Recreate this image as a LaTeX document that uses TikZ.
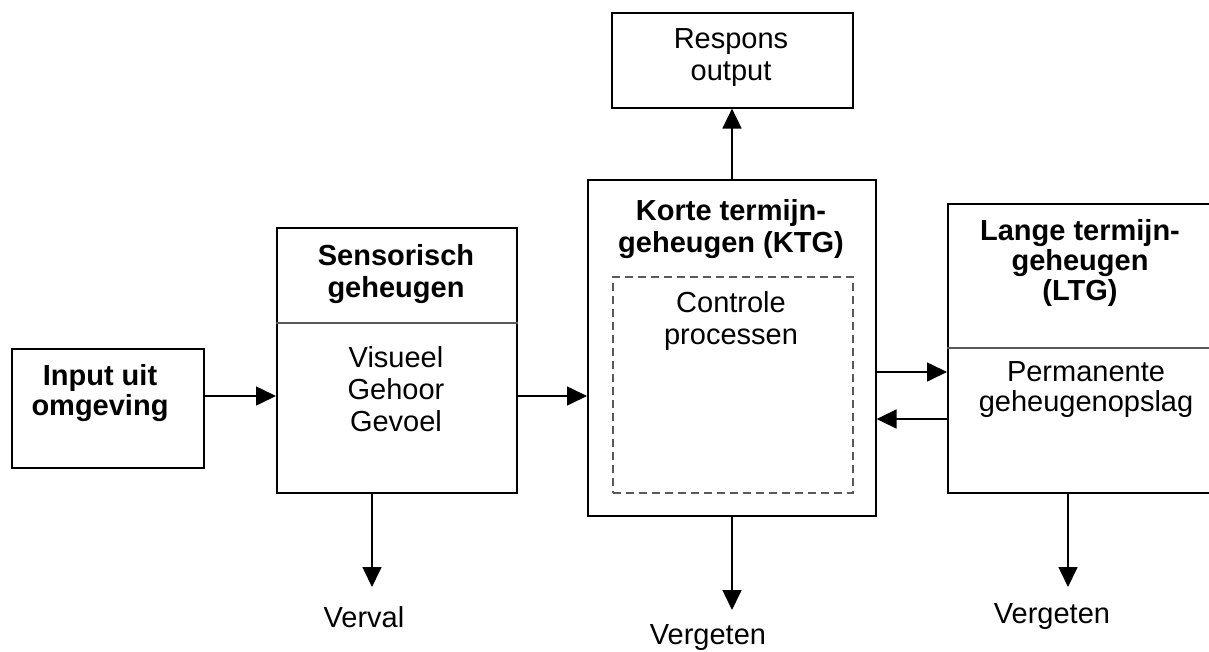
\documentclass[tikz,border=0pt]{standalone}
\usepackage{fontspec}
\setmainfont{Liberation Sans}
\usetikzlibrary{arrows.meta,math,calc}

\begin{document}
\begin{tikzpicture}[x=1pt,y=-1pt,>={Triangle[length=20pt,width=19pt]},
	box/.style={draw,line width=1.6pt,inner sep=0pt,anchor=north west},
	txt/.style={align=center,inner sep=0pt,font=\fontsize{29}{32}\selectfont},
	vet/.style={txt,font=\fontsize{29}{32}\selectfont\bfseries},
	krap/.style={font=\fontsize{29}{30}\selectfont\bfseries},
	pijl/.style={->,line width=1.6pt},
	scheid/.style={line width=1.2pt,color=black!65},
	stippel/.style={draw,color=black!65,line width=1.5pt,dash pattern=on 8pt off 5pt,inner sep=0pt,anchor=north west}]

\tikzmath{
	real	\rij, \heen, \terug;
	\rij = 396;
	\heen = 372;
	\terug = 419;
}

\clip (0,0) rectangle (1209,651);

% blokken
\node[box,minimum width=192pt,minimum height=119pt] (input) at (11,348) {};
\node[box,minimum width=240pt,minimum height=265pt] (sens) at (276,227) {};
\node[box,minimum width=288pt,minimum height=336pt] (ktg) at (587,179) {};
\node[box,minimum width=275pt,minimum height=289pt] (ltg) at (947,203) {};
\node[box,minimum width=241pt,minimum height=95pt] (respons) at (611,12) {};
\node[stippel,minimum width=240pt,minimum height=216pt] (controle) at (612,276) {};

\draw[scheid] (sens.west |- 0,323) -- (sens.east |- 0,323);
\draw[scheid] (ltg.west |- 0,348) -- (ltg.east |- 0,348);

% teksten
\node[vet,krap] (input-tekst) at (100,393) {Input uit\\omgeving};
\node[vet] (sens-titel) at (396,274) {Sensorisch\\geheugen};
\node[txt] (sens-tekst) at (396,389) {Visueel\\Gehoor\\Gevoel};
\node[vet] (ktg-titel) at (731,229) {Korte termijn-\\geheugen (KTG)};
\node[txt] (controle-tekst) at (731,321) {Controle\\processen};
\node[vet,krap] (ltg-titel) at (1080,263) {Lange termijn-\\geheugen\\(LTG)};
\node[txt,font=\fontsize{29}{30}\selectfont] (ltg-tekst) at (1086,390) {Permanente\\geheugenopslag};
\node[txt] (respons-tekst) at (731,58) {Respons\\output};
\node[txt] (verval) at (364,617) {Verval};
\node[txt] (vergeten-ktg) at (708,638) {Vergeten};
\node[txt] (vergeten-ltg) at (1052,617) {Vergeten};

% pijlen
\coordinate (rij) at (0,\rij);
\coordinate (heen) at (0,\heen);
\coordinate (terug) at (0,\terug);
\coordinate (s-uit) at (372,587);
\coordinate (k-uit) at (732,610);
\coordinate (l-uit) at (1068,587);

\draw[pijl] (input.east |- rij) -- (sens.west |- rij);
\draw[pijl] (sens.east |- rij) -- (ktg.west |- rij);
\draw[pijl] (ktg.east |- heen) -- (ltg.west |- heen);
\draw[pijl] (ltg.west |- terug) -- (ktg.east |- terug);
\draw[pijl] (ktg.north -| k-uit) -- (respons.south -| k-uit);
\draw[pijl] (sens.south -| s-uit) -- (s-uit);
\draw[pijl] (ktg.south -| k-uit) -- (k-uit);
\draw[pijl] (ltg.south -| l-uit) -- (l-uit);

\end{tikzpicture}
\end{document}
